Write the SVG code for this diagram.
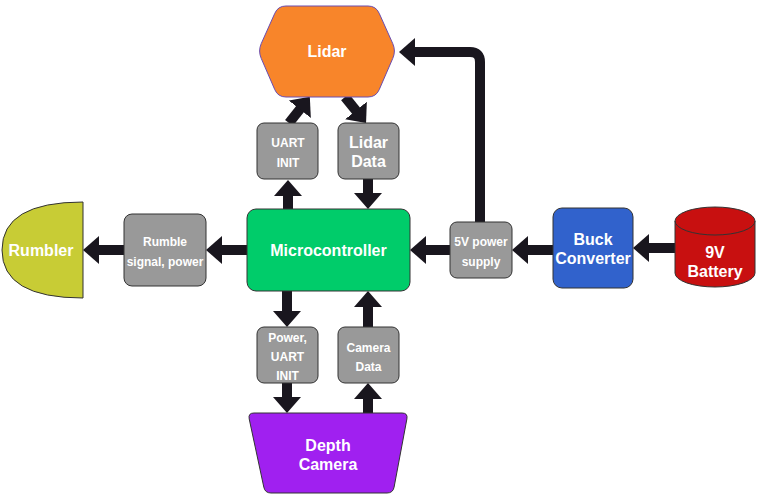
<svg xmlns="http://www.w3.org/2000/svg" width="763" height="501" viewBox="0 0 763 501">
<style>
.n{stroke:#333333;stroke-width:1}
.g{fill:#999999}
.t{font-family:"Liberation Sans",Arial,sans-serif;font-weight:bold;fill:#ffffff;text-anchor:middle}
.b{font-size:16px}
.s{font-size:12px}
.c{fill:none;stroke:#19161e;stroke-width:10;marker-end:url(#ah)}
</style>
<defs>
<marker id="ah" viewBox="0 0 16 28" markerWidth="16" markerHeight="28" markerUnits="userSpaceOnUse" refX="1" refY="14" orient="auto">
<path d="M0,0 L16,14 L0,28 Z" fill="#19161e"/>
</marker>
</defs>
<rect width="763" height="501" fill="#ffffff"/>
<g id="connectors">
<path class="c" d="M247,250 H221"/>
<path class="c" d="M124,250 H98"/>
<path class="c" d="M450,250 H425"/>
<path class="c" d="M553,250 H527"/>
<path class="c" d="M675,248 H648"/>
<path class="c" d="M480,222 V62 Q480,52 470,52 H414"/>
<path class="c" d="M288,209 V195"/>
<path class="c" d="M289,123 L300.5,108.5"/>
<path class="c" d="M345,97 L356.6,111.3"/>
<path class="c" d="M368,179 V194"/>
<path class="c" d="M287,291 V312"/>
<path class="c" d="M287,383 V398"/>
<path class="c" d="M368,413 V398"/>
<path class="c" d="M368,327 V306"/>
</g>
<g id="lidar">
<path d="M261.2,43.7 L274.8,13.3 Q278,6 286,6 L368,6 Q376,6 379.2,13.3 L392.8,43.7 Q396,51 392.8,58.3 L379.2,89.7 Q376,97 368,97 L286,97 Q278,97 274.8,89.7 L261.2,58.3 Q258,51 261.2,43.7 Z" fill="#f8852a" stroke="#6a4cb0" stroke-width="1"/>
<text class="t b" x="327" y="57">Lidar</text>
</g>
<g id="uart-init">
<rect class="n g" x="257" y="123" width="61" height="56" rx="7"/>
<text class="t s" x="288" y="147">UART</text>
<text class="t s" x="288" y="167">INIT</text>
</g>
<g id="lidar-data">
<rect class="n g" x="338" y="123" width="61" height="56" rx="7"/>
<text class="t b" x="368.5" y="148">Lidar</text>
<text class="t b" x="368.5" y="167">Data</text>
</g>
<g id="rumbler">
<path class="n" d="M83,202 Q2,202 2,250 Q2,298 83,298 Z" fill="#c8cc35"/>
<text class="t b" x="41" y="256">Rumbler</text>
</g>
<g id="rumble-signal">
<rect class="n g" x="124" y="214" width="82" height="72" rx="8"/>
<text class="t s" x="165" y="246">Rumble</text>
<text class="t s" x="165" y="266">signal, power</text>
</g>
<g id="microcontroller">
<rect class="n" x="247" y="209" width="163" height="82" rx="9" fill="#00cc6a"/>
<text class="t b" x="328.5" y="256">Microcontroller</text>
</g>
<g id="power-supply">
<rect class="n g" x="450" y="222" width="62" height="56" rx="7"/>
<text class="t s" x="481" y="246">5V power</text>
<text class="t s" x="481" y="266">supply</text>
</g>
<g id="buck-converter">
<rect class="n" x="553" y="208" width="80" height="80" rx="9" fill="#3162cc"/>
<text class="t b" x="593" y="245">Buck</text>
<text class="t b" x="593" y="264">Converter</text>
</g>
<g id="battery">
<path class="n" d="M675,221 A40,14 0 0 1 755,221 V273 A40,14 0 0 1 675,273 Z" fill="#c81010"/>
<path class="n" d="M675,221 A40,14 0 0 0 755,221" fill="none"/>
<text class="t b" x="715" y="258">9V</text>
<text class="t b" x="715" y="277">Battery</text>
</g>
<g id="power-uart-init">
<rect class="n g" x="257" y="327" width="61" height="56" rx="7"/>
<text class="t s" x="287.5" y="342">Power,</text>
<text class="t s" x="287.5" y="361">UART</text>
<text class="t s" x="287.5" y="380">INIT</text>
</g>
<g id="camera-data">
<rect class="n g" x="338" y="327" width="61" height="56" rx="7"/>
<text class="t s" x="368.5" y="352">Camera</text>
<text class="t s" x="368.5" y="371">Data</text>
</g>
<g id="depth-camera">
<path class="n" d="M254,413 L402,413 Q408,413 406.9,418.9 L394.1,487.1 Q393,493 387,493 L271,493 Q265,493 263.8,487.1 L249.2,418.9 Q248,413 254,413 Z" fill="#a020f0"/>
<text class="t b" x="328" y="451">Depth</text>
<text class="t b" x="328" y="470">Camera</text>
</g>
</svg>
